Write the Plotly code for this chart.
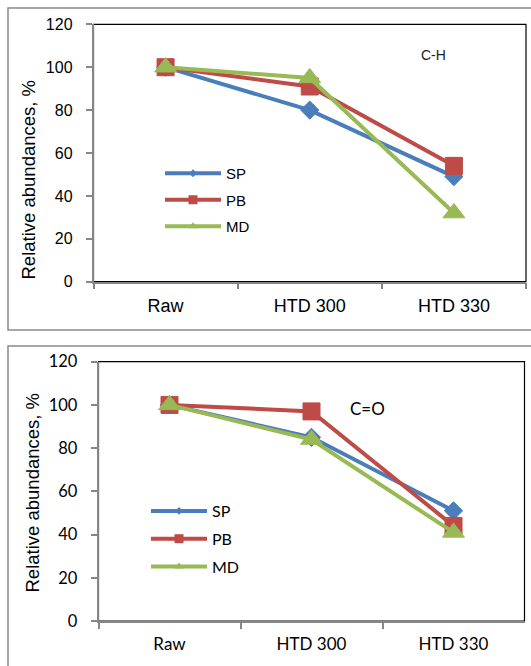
import plotly.graph_objects as go

W, H = 531, 666

categories = ["Raw", "HTD 300", "HTD 330"]
series_names = ["SP", "PB", "MD"]

# C-H panel
ch_sp = [100, 80, 49]
ch_pb = [100, 91, 54]
ch_md = [100, 95, 32]

# C=O panel
co_sp = [100, 85, 51]
co_pb = [100, 97, 44]
co_md = [100, 84, 41]

y_ticks = [0, 20, 40, 60, 80, 100, 120]

colors = {"SP": "#4A7EBB", "PB": "#BE4B48", "MD": "#98B954"}
symbols = {"SP": "diamond", "PB": "square", "MD": "triangle-up"}
msize = {"SP": 14, "PB": 17, "MD": 19}
legend_msize = {"SP": 6, "PB": 9, "MD": 8}

ARIAL = "Liberation Sans, Arial, sans-serif"
CALIBRI = "Lato, Liberation Sans, sans-serif"

fig = go.Figure()

def px(v):
    return v / W

def py(v):
    return 1 - v / H

panels = [
    ("x", "y", "legend", [ch_sp, ch_pb, ch_md], "1"),
    ("x2", "y2", "legend2", [co_sp, co_pb, co_md], "2"),
]

for xa, ya, lg, vals, tag in panels:
    for name, v in zip(series_names, vals):
        fig.add_trace(go.Scatter(
            x=categories, y=v, name=name, xaxis=xa, yaxis=ya, showlegend=False,
            mode="lines+markers",
            line=dict(color=colors[name], width=4),
            marker=dict(symbol=symbols[name], size=msize[name], color=colors[name],
                        line=dict(color=colors[name], width=1)),
        ))
    # legend entries (smaller markers, as in the original legend)
    for name in series_names:
        fig.add_trace(go.Scatter(
            x=[None], y=[None], name=name, xaxis=xa, yaxis=ya, legend=lg,
            legendgroup=name + tag, mode="lines+markers",
            line=dict(color=colors[name], width=4),
            marker=dict(symbol=symbols[name], size=legend_msize[name], color=colors[name]),
        ))

axis_gray = "#868686"

def yax(domain, font, anchor):
    return dict(domain=domain, range=[0, 120], tickvals=y_ticks, showgrid=False,
                zeroline=False, showline=True, linecolor=axis_gray, linewidth=1.5,
                ticks="outside", ticklen=6, tickcolor=axis_gray, tickwidth=1.5,
                tickfont=font, anchor=anchor, ticklabelstandoff=10, fixedrange=True)

def xax(domain, font, anchor):
    return dict(domain=domain, type="category", categoryorder="array",
                categoryarray=categories, range=[-0.5, 2.5], tickson="boundaries",
                showgrid=False, zeroline=False, showline=True, linecolor=axis_gray,
                linewidth=1.5, ticks="outside", ticklen=6, tickcolor=axis_gray,
                tickwidth=1.5, tickfont=font, anchor=anchor, fixedrange=True,
                ticklabelstandoff=7)

top_x = [px(93.5), px(526)]
top_y = [py(281.7), py(24.3)]
bot_x = [px(98.5), px(524.5)]
bot_y = [py(621), py(361.7)]

shapes = [
    dict(type="rect", xref="paper", yref="paper", x0=px(8), x1=px(545), y0=py(330), y1=py(8),
         line=dict(color="#8A8A8A", width=1.5), layer="below"),
    dict(type="rect", xref="paper", yref="paper", x0=px(8), x1=px(545), y0=py(680), y1=py(346),
         line=dict(color="#8A8A8A", width=1.5), layer="below"),
    dict(type="rect", xref="x domain", yref="y domain", x0=0, x1=1, y0=0, y1=1,
         line=dict(color="#000000", width=1.2), layer="below"),
    dict(type="rect", xref="x2 domain", yref="y2 domain", x0=0, x1=1, y0=0, y1=1,
         line=dict(color="#000000", width=1.2), layer="below"),
]

title_text = "Relative abundances, %"
annotations = [
    dict(text=title_text, xref="paper", yref="paper", x=px(27.5), y=py(180), textangle=-90,
         showarrow=False, font=dict(family=ARIAL, size=18.5, color="#000"),
         xanchor="center", yanchor="middle"),
    dict(text=title_text, xref="paper", yref="paper", x=px(31.5), y=py(493), textangle=-90,
         showarrow=False, font=dict(family=ARIAL, size=18.5, color="#000"),
         xanchor="center", yanchor="middle"),
    dict(text="C-H", xref="paper", yref="paper", x=px(433), y=py(55),
         showarrow=False, font=dict(family=ARIAL, size=14, color="#222"),
         xanchor="center", yanchor="middle"),
    dict(text="C=O", xref="paper", yref="paper", x=px(367.5), y=py(408),
         showarrow=False, font=dict(family=CALIBRI, size=17, color="#000"),
         xanchor="center", yanchor="middle"),
]

fig.update_layout(
    width=W, height=H, margin=dict(l=0, r=0, t=0, b=0, autoexpand=False),
    paper_bgcolor="white", plot_bgcolor="white",
    xaxis=xax(top_x, dict(family=ARIAL, size=18, color="#000"), "y"),
    yaxis=yax(top_y, dict(family=ARIAL, size=16, color="#000"), "x"),
    xaxis2=xax(bot_x, dict(family=CALIBRI, size=17, color="#000"), "y2"),
    yaxis2=yax(bot_y, dict(family=CALIBRI, size=16.5, color="#000"), "x2"),
    shapes=shapes, annotations=annotations,
    legend=dict(x=px(160), y=py(157), xanchor="left", yanchor="top",
                bgcolor="rgba(0,0,0,0)", tracegroupgap=4, itemwidth=56,
                font=dict(family=ARIAL, size=15, color="#000")),
    legend2=dict(x=px(146), y=py(494), xanchor="left", yanchor="top",
                 bgcolor="rgba(0,0,0,0)", tracegroupgap=4, itemwidth=56,
                 font=dict(family=CALIBRI, size=16, color="#000")),
    showlegend=True,
)

fig.write_html("out.html", config={"displayModeBar": False},
               post_script="document.body.style.margin='0';document.body.style.overflow='hidden';")
